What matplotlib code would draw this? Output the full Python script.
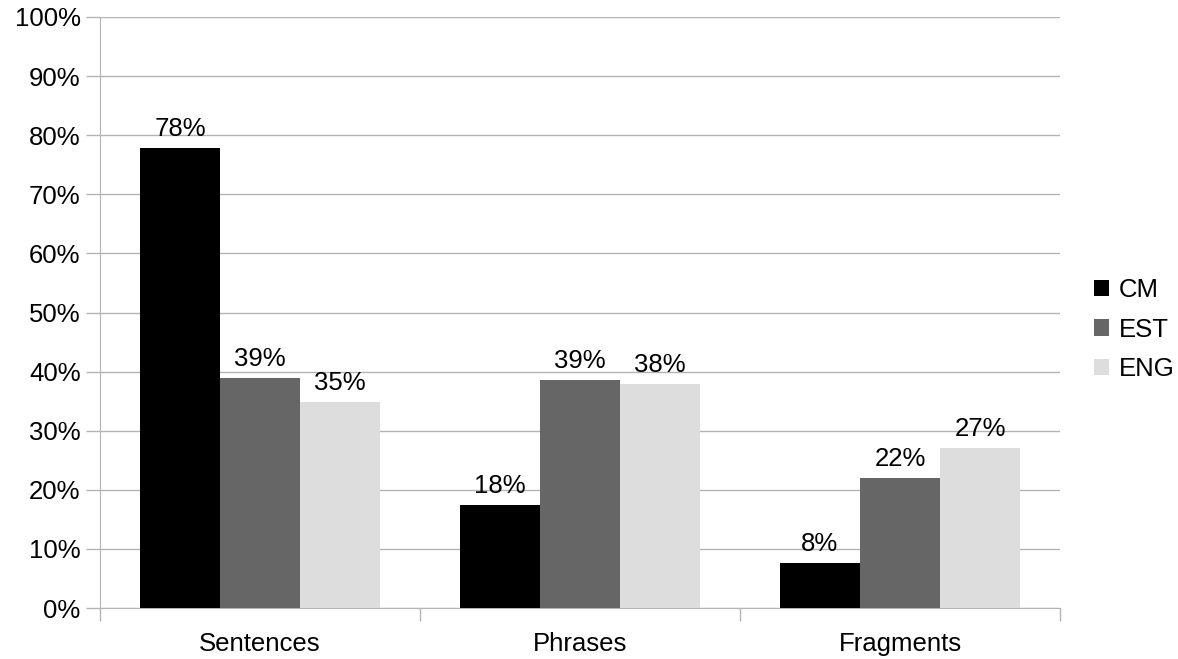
import matplotlib.pyplot as plt
import numpy as np
from matplotlib.ticker import FuncFormatter, FixedLocator

# Data (percent)
categories = ['Sentences', 'Phrases', 'Fragments']
series = ['CM', 'EST', 'ENG']
cm_values = [77.9, 17.5, 7.6]
est_values = [39.0, 38.6, 22.0]
eng_values = [34.8, 37.9, 27.0]
colors = ['#000000', '#666666', '#dddddd']

plt.rcParams['font.family'] = ['Liberation Sans', 'DejaVu Sans']
fs = 18.5

fig = plt.figure(figsize=(11.78, 6.59), dpi=100)
ax = fig.add_axes([100 / 1178, 51 / 659, 960 / 1178, 591 / 659])

x = np.arange(len(categories))
width = 0.25
grid_color = '#b3b3b3'

for i, (name, vals) in enumerate(zip(series, [cm_values, est_values, eng_values])):
    bars = ax.bar(x + (i - 1) * width, vals, width, color=colors[i], label=name, zorder=3)
    ax.bar_label(bars, labels=[f"{round(v):.0f}%" for v in vals], padding=5,
                 fontsize=fs, color='#000000')

ax.set_xlim(-0.5, 2.5)
ax.set_ylim(0, 100)
ax.set_yticks(np.arange(0, 101, 10))
ax.yaxis.set_major_formatter(FuncFormatter(lambda v, p: f"{v:.0f}%"))
ax.yaxis.grid(True, color=grid_color, linewidth=1, zorder=0)
ax.set_axisbelow(True)

ax.set_xticks(x)
ax.set_xticklabels(categories)
ax.xaxis.set_minor_locator(FixedLocator([-0.5, 0.5, 1.5, 2.5]))
ax.tick_params(axis='x', which='major', length=0, pad=17, labelsize=fs)
ax.tick_params(axis='x', which='minor', length=9, color=grid_color, width=1)
ax.tick_params(axis='y', length=10, color=grid_color, width=1, pad=4, labelsize=fs)

for side in ['top', 'right']:
    ax.spines[side].set_visible(False)
for side in ['left', 'bottom']:
    ax.spines[side].set_color(grid_color)

fig.legend(loc='center left', bbox_to_anchor=(1094 / 1178, 0.5), frameon=False,
           fontsize=fs, handlelength=0.6, handleheight=0.6, handletextpad=0.35,
           labelspacing=0.6, borderaxespad=0, borderpad=0)

fig.savefig('out.png', dpi=100)
